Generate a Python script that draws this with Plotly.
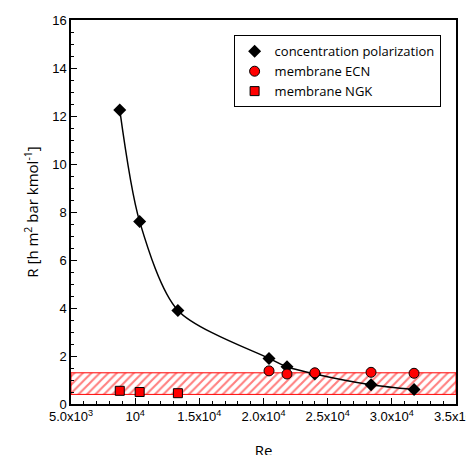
import plotly.graph_objects as go

re_cp = [8800, 10350, 13330, 20430, 21830, 24000, 28380, 31730]
r_cp = [12.25, 7.6, 3.9, 1.9, 1.55, 1.25, 0.8, 0.6]
re_ecn = [20430, 21830, 24000, 28380, 31730]
r_ecn = [1.38, 1.25, 1.3, 1.32, 1.28]
re_ngk = [8800, 10350, 13330]
r_ngk = [0.55, 0.5, 0.45]
band = [0.4, 1.3]
xticks = [5000, 10000, 15000, 20000, 25000, 30000, 35000]
xlabels = ["5.0x10<sup>3</sup>", "10<sup>4</sup>", "1.5x10<sup>4</sup>", "2.0x10<sup>4</sup>",
           "2.5x10<sup>4</sup>", "3.0x10<sup>4</sup>", "3.5x10<sup>4</sup>"]

fig = go.Figure()
fig.add_trace(go.Scatter(x=[5000, 35000, 35000, 5000, 5000], y=[band[0], band[0], band[1], band[1], band[0]],
                         mode="lines", fill="toself", line=dict(color="red", width=1),
                         fillcolor="rgba(255,255,255,0)",
                         fillpattern=dict(shape="/", fgcolor="red", size=6, solidity=0.35),
                         showlegend=False, hoverinfo="skip"))
fig.add_trace(go.Scatter(x=re_cp, y=r_cp, mode="lines", line=dict(color="black", width=1.5, shape="spline", smoothing=0.8),
                         showlegend=False))
fig.add_trace(go.Scatter(x=re_cp, y=r_cp, mode="markers", name="concentration polarization",
                         marker=dict(symbol="diamond", size=10, color="black")))
fig.add_trace(go.Scatter(x=re_ecn, y=r_ecn, mode="markers", name="membrane ECN",
                         marker=dict(symbol="circle", size=10, color="red", line=dict(color="black", width=1))))
fig.add_trace(go.Scatter(x=re_ngk, y=r_ngk, mode="markers", name="membrane NGK",
                         marker=dict(symbol="square", size=9, color="red", line=dict(color="black", width=1))))

axis_common = dict(showline=True, linecolor="black", linewidth=1.5, mirror=True, ticks="inside",
                   ticklen=6, tickcolor="black", showgrid=False, zeroline=False,
                   tickfont=dict(size=13, color="black", family="Liberation Sans, Arial, sans-serif"))
fig.update_xaxes(range=[5000, 35000], tickvals=xticks, ticktext=xlabels,
                 minor=dict(ticks="inside", ticklen=3, dtick=1000, tickcolor="black"),
                 title=dict(text="Re", font=dict(size=15, color="black"), standoff=22), **axis_common)
fig.update_yaxes(range=[0, 16], dtick=2,
                 minor=dict(ticks="inside", ticklen=3, dtick=0.5, tickcolor="black"),
                 title=dict(text="R [h m<sup>2</sup> bar kmol<sup>-1</sup>]", font=dict(size=15, color="black"), standoff=10),
                 **axis_common)
fig.update_layout(width=474, height=455, plot_bgcolor="white", paper_bgcolor="white",
                  font=dict(family="Open Sans, Liberation Sans, sans-serif"),
                  margin=dict(l=63, r=26, t=12, b=59, autoexpand=False),
                  legend=dict(x=0.96, y=0.96, xanchor="right", yanchor="top", bordercolor="black", borderwidth=1,
                              font=dict(size=13, color="black"), bgcolor="white"))
fig.write_html("out.html")
